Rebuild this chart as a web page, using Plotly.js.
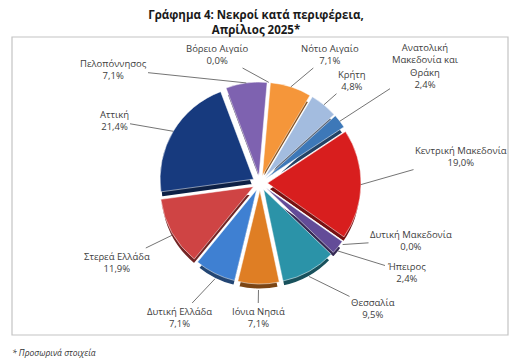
<!DOCTYPE html>
<html>
<head>
<meta charset="utf-8">
<script src="https://cdn.plot.ly/plotly-3.0.1.min.js"></script>
<style>html,body{margin:0;padding:0;background:#fff;}#chart{width:523px;height:362px;}</style>
</head>
<body>
<div id="chart"></div>
<script>
// ---- data ----
const regions = ["Βόρειο Αιγαίο", "Νότιο Αιγαίο", "Κρήτη", "Ανατολική Μακεδονία και Θράκη",
  "Κεντρική Μακεδονία", "Δυτική Μακεδονία", "Ήπειρος", "Θεσσαλία", "Ιόνια Νησιά",
  "Δυτική Ελλάδα", "Στερεά Ελλάδα", "Αττική", "Πελοπόννησος"];
const labelText = ["Βόρειο Αιγαίο", "Νότιο Αιγαίο", "Κρήτη", "Ανατολική<br>Μακεδονία και<br>Θράκη",
  "Κεντρική Μακεδονία", "Δυτική Μακεδονία", "Ήπειρος", "Θεσσαλία", "Ιόνια Νησιά",
  "Δυτική Ελλάδα", "Στερεά Ελλάδα", "Αττική", "Πελοπόννησος"];
const shares = [0.0, 7.1, 4.8, 2.4, 19.0, 0.0, 2.4, 9.5, 7.1, 7.1, 11.9, 21.4, 7.1];

// ---- styles / layout constants ----
const topColors = ["#8064A2", "#F5963A", "#A3BCDF", "#3D78B8", "#D81E1E", "#7A5FA8", "#634C98",
  "#2B93A8", "#DF7E24", "#3F80D2", "#CF4444", "#173A7E", "#7E62B0"];
function darken(hex, f) {
  const n = parseInt(hex.slice(1), 16);
  const r = Math.round(((n >> 16) & 255) * f), g = Math.round(((n >> 8) & 255) * f), b = Math.round((n & 255) * f);
  return "rgb(" + r + "," + g + "," + b + ")";
}
const sideColors = topColors.map(c => darken(c, 0.55));
// label text centres (px)
const labelPos = [[217, 54], [330, 54], [352, 80], [425, 66], [461, 156], [411, 240], [406, 272],
  [373, 308], [258, 317], [179, 317], [117, 262], [114, 121], [113, 69]];

const W = 523, H = 362;
const CX = 260, CY = 183, R = 101, PULL = 0.08, THICK = 6, ROT = 5;

const dom = {x: [(CX - R) / W, (CX + R) / W], y: [1 - (CY + R) / H, 1 - (CY - R) / H]};
const domShadow = {x: dom.x, y: [dom.y[0] - THICK / H, dom.y[1] - THICK / H]};

const common = {
  type: "pie", labels: regions, values: shares, sort: false, direction: "clockwise",
  rotation: ROT, pull: PULL, textinfo: "none", hoverinfo: "skip", showlegend: false
};
const shadowTrace = Object.assign({}, common, {domain: domShadow, marker: {colors: sideColors, line: {width: 3, color: "#fff"}}});
const faceTrace = Object.assign({}, common, {domain: dom, marker: {colors: topColors, line: {width: 0.5, color: "#fff"}}});

// leader-line tips from slice geometry
const total = shares.reduce((a, b) => a + b, 0);
let cum = 0;
const annotations = [];
shares.forEach((v, i) => {
  const mid = (ROT + (cum + v / 2) / total * 360) * Math.PI / 180;
  cum += v;
  let tx = CX + R * Math.sin(mid);
  let ty = CY - R * Math.cos(mid);
  if (Math.cos(mid) < 0) ty += THICK * (-Math.cos(mid));
  const [lx, ly] = labelPos[i];
  annotations.push({
    xref: "paper", yref: "paper", x: tx / W, y: 1 - ty / H,
    ax: lx - tx, ay: ly - ty,
    text: labelText[i] + "<br>" + v.toFixed(1).replace(".", ",") + "%",
    showarrow: true, arrowhead: 0, arrowwidth: 0.8, arrowcolor: "#505050", standoff: 0,
    font: {family: "Open Sans", size: 9.5, color: "#404040"}, align: "center"
  });
});
annotations.push({
  xref: "paper", yref: "paper", x: 10 / W, y: 1 - 352 / H, xanchor: "left", yanchor: "middle",
  showarrow: false, text: "<i>* Προσωρινά στοιχεία</i>",
  font: {family: "Open Sans", size: 8.5, color: "#333"}
});

const layout = {
  width: W, height: H, margin: {l: 0, r: 0, t: 0, b: 0},
  paper_bgcolor: "#fff", plot_bgcolor: "#fff",
  title: {text: "Γράφημα 4: Νεκροί κατά περιφέρεια,<br>Απρίλιος 2025*",
    x: 256 / W, xanchor: "center", y: 1 - 19 / H, yanchor: "middle", yref: "paper",
    font: {family: "Open Sans", size: 11.5, color: "#1a1a1a", weight: "bold"}},
  shapes: [{type: "rect", xref: "paper", yref: "paper", x0: 12 / W, x1: 508 / W,
    y0: 1 - 335 / H, y1: 1 - 37 / H, line: {color: "#C4C4C4", width: 1.2}}],
  annotations: annotations
};

Plotly.newPlot("chart", [shadowTrace, faceTrace], layout, {staticPlot: true, displayModeBar: false});
</script>
</body>
</html>
